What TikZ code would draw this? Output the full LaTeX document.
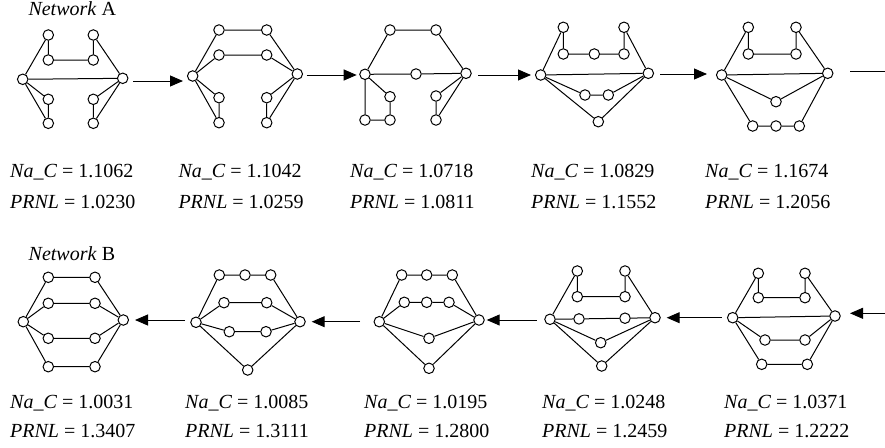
\documentclass[tikz,border=0pt]{standalone}
\usepackage{fontspec}
\setmainfont{Liberation Serif}
\usetikzlibrary{arrows.meta}
\tikzset{
  v/.style={circle,draw,fill=white,inner sep=0pt,minimum size=10.5pt,line width=1pt},
  e/.style={line width=1pt},
  arr/.style={line width=1pt,-{Triangle[length=13pt,width=11pt]}},
  lbl/.style={anchor=base west,inner sep=0pt,font=\fontsize{20}{24}\selectfont},
}
\begin{document}
\begin{tikzpicture}[x=1pt,y=-1pt]
\useasboundingbox (0,0) rectangle (885,447);
% ---------------- Row A ----------------
\node[lbl] (netA) at (28.3,16) {\textit{Network} A};
% A1
\node[v] (a1L) at (22.7,79.3) {};
\node[v] (a1R) at (122.7,78.3) {};
\node[v] (a1t1) at (48.3,35) {};
\node[v] (a1t2) at (93.3,35) {};
\node[v] (a1s1) at (48.3,60) {};
\node[v] (a1s2) at (93.3,60) {};
\node[v] (a1b1) at (48.3,99.3) {};
\node[v] (a1b2) at (48.3,123.3) {};
\node[v] (a1b3) at (93.3,99.3) {};
\node[v] (a1b4) at (93.3,123.3) {};
\draw[e] (a1L)--(a1t1) (a1t1)--(a1s1) (a1s1)--(a1s2) (a1s2)--(a1t2) (a1t2)--(a1R) (a1L)--(a1R)
 (a1L)--(a1b1) (a1b1)--(a1b2) (a1L)--(a1b2) (a1R)--(a1b3) (a1b3)--(a1b4) (a1R)--(a1b4);
% A2
\node[v] (a2L) at (192.7,76) {};
\node[v] (a2R) at (297.3,74) {};
\node[v] (a2t1) at (219,30) {};
\node[v] (a2t2) at (266.7,30) {};
\node[v] (a2s1) at (219,55) {};
\node[v] (a2s2) at (266.7,55) {};
\node[v] (a2b1) at (219,97.7) {};
\node[v] (a2b2) at (219,122.7) {};
\node[v] (a2b3) at (266.7,97.7) {};
\node[v] (a2b4) at (266.7,122.7) {};
\draw[e] (a2L)--(a2t1) (a2t1)--(a2t2) (a2t2)--(a2R) (a2L)--(a2s1) (a2s1)--(a2s2) (a2s2)--(a2R)
 (a2L)--(a2b1) (a2b1)--(a2b2) (a2L)--(a2b2) (a2R)--(a2b3) (a2b3)--(a2b4) (a2R)--(a2b4);
% A3
\node[v] (a3L) at (365,74.3) {};
\node[v] (a3R) at (466,73.3) {};
\node[v] (a3m) at (416,74) {};
\node[v] (a3t1) at (390,30) {};
\node[v] (a3t2) at (436,30) {};
\node[v] (a3b1) at (390,96.7) {};
\node[v] (a3b2) at (390,120) {};
\node[v] (a3b0) at (365,120) {};
\node[v] (a3b3) at (436,96) {};
\node[v] (a3b4) at (436,120) {};
\draw[e] (a3L)--(a3t1) (a3t1)--(a3t2) (a3t2)--(a3R) (a3L)--(a3m) (a3m)--(a3R)
 (a3L)--(a3b1) (a3b1)--(a3b2) (a3b2)--(a3b0) (a3b0)--(a3L) (a3R)--(a3b3) (a3b3)--(a3b4) (a3R)--(a3b4);
% A4
\node[v] (a4L) at (540.7,75) {};
\node[v] (a4R) at (648.3,73.3) {};
\node[v] (a4t1) at (563.3,27.3) {};
\node[v] (a4t2) at (624,27.3) {};
\node[v] (a4s1) at (563.3,54) {};
\node[v] (a4s2) at (594.3,54) {};
\node[v] (a4s3) at (624,54) {};
\node[v] (a4m1) at (585,95) {};
\node[v] (a4m2) at (608.3,95) {};
\node[v] (a4b) at (598.3,121.7) {};
\draw[e] (a4L)--(a4t1) (a4t1)--(a4s1) (a4s1)--(a4s2) (a4s2)--(a4s3) (a4s3)--(a4t2) (a4t2)--(a4R) (a4L)--(a4R)
 (a4L)--(a4m1) (a4m1)--(a4m2) (a4m2)--(a4R) (a4L)--(a4b) (a4b)--(a4R);
% A5
\node[v] (a5L) at (721.7,75) {};
\node[v] (a5R) at (827.7,73.3) {};
\node[v] (a5t1) at (748.3,27.3) {};
\node[v] (a5t2) at (796,27.3) {};
\node[v] (a5s1) at (748.3,54) {};
\node[v] (a5s2) at (796,54) {};
\node[v] (a5m) at (776,101.7) {};
\node[v] (a5b1) at (752.7,126) {};
\node[v] (a5b2) at (776,126) {};
\node[v] (a5b3) at (799.3,126) {};
\draw[e] (a5L)--(a5t1) (a5t1)--(a5s1) (a5s1)--(a5s2) (a5s2)--(a5t2) (a5t2)--(a5R) (a5L)--(a5R)
 (a5L)--(a5m) (a5m)--(a5R) (a5L)--(a5b1) (a5b1)--(a5b2) (a5b2)--(a5b3) (a5b3)--(a5R);
% arrows row A
\coordinate (pa1s) at (133,81); \coordinate (pa1e) at (183,81);
\coordinate (pa2s) at (306.7,75); \coordinate (pa2e) at (356.7,75);
\coordinate (pa3s) at (478.3,75); \coordinate (pa3e) at (531,75);
\coordinate (pa4s) at (660,74); \coordinate (pa4e) at (707,74);
\coordinate (pa5s) at (850,71); \coordinate (pa5e) at (885,71);
\draw[arr] (pa1s)--(pa1e);
\draw[arr] (pa2s)--(pa2e);
\draw[arr] (pa3s)--(pa3e);
\draw[arr] (pa4s)--(pa4e);
\draw[e] (pa5s)--(pa5e);
% labels row A
\node[lbl] (la1) at (10,177.3) {\textit{Na\_C} = 1.1062};
\node[lbl] (la1p) at (10,208) {\textit{PRNL} = 1.0230};
\node[lbl] (la2) at (178.3,177.3) {\textit{Na\_C} = 1.1042};
\node[lbl] (la2p) at (178.3,208) {\textit{PRNL} = 1.0259};
\node[lbl] (la3) at (350,177.3) {\textit{Na\_C} = 1.0718};
\node[lbl] (la3p) at (350,208) {\textit{PRNL} = 1.0811};
\node[lbl] (la4) at (531,177.3) {\textit{Na\_C} = 1.0829};
\node[lbl] (la4p) at (531,208) {\textit{PRNL} = 1.1552};
\node[lbl] (la5) at (705,177.3) {\textit{Na\_C} = 1.1674};
\node[lbl] (la5p) at (705,208) {\textit{PRNL} = 1.2056};
% ---------------- Row B ----------------
\node[lbl] (netB) at (28.5,260) {\textit{Network} B};
% B1
\node[v] (b1L) at (23.3,321.7) {};
\node[v] (b1R) at (123.3,320) {};
\node[v] (b1a1) at (48.3,277.3) {};
\node[v] (b1a2) at (95,277.3) {};
\node[v] (b1b1) at (48.3,303.3) {};
\node[v] (b1b2) at (95,303.3) {};
\node[v] (b1c1) at (48.3,338.3) {};
\node[v] (b1c2) at (95,338.3) {};
\node[v] (b1d1) at (48.3,366.7) {};
\node[v] (b1d2) at (95,366.7) {};
\draw[e] (b1L)--(b1a1) (b1a1)--(b1a2) (b1a2)--(b1R) (b1L)--(b1b1) (b1b1)--(b1b2) (b1b2)--(b1R)
 (b1L)--(b1c1) (b1c1)--(b1c2) (b1c2)--(b1R) (b1L)--(b1d1) (b1d1)--(b1d2) (b1d2)--(b1R);
% B2
\node[v] (b2L) at (196,322.3) {};
\node[v] (b2R) at (300,321.7) {};
\node[v] (b2t1) at (219.3,275) {};
\node[v] (b2t2) at (245,275) {};
\node[v] (b2t3) at (270.7,275) {};
\node[v] (b2s1) at (224,302.7) {};
\node[v] (b2s2) at (266.7,302.7) {};
\node[v] (b2u1) at (229.3,331.7) {};
\node[v] (b2u2) at (266,331.7) {};
\node[v] (b2b) at (247.7,370) {};
\draw[e] (b2L)--(b2t1) (b2t1)--(b2t2) (b2t2)--(b2t3) (b2t3)--(b2R) (b2L)--(b2s1) (b2s1)--(b2s2) (b2s2)--(b2R)
 (b2L)--(b2u1) (b2u1)--(b2u2) (b2u2)--(b2R) (b2L)--(b2b) (b2b)--(b2R);
% B3
\node[v] (b3L) at (379.3,321.7) {};
\node[v] (b3R) at (479,320) {};
\node[v] (b3t1) at (401.7,275) {};
\node[v] (b3t2) at (426.7,275) {};
\node[v] (b3t3) at (452.3,275) {};
\node[v] (b3s1) at (404.3,302.3) {};
\node[v] (b3s2) at (426.7,302.3) {};
\node[v] (b3s3) at (449,302.3) {};
\node[v] (b3m) at (429,338.3) {};
\node[v] (b3b) at (429,368.3) {};
\draw[e] (b3L)--(b3t1) (b3t1)--(b3t2) (b3t2)--(b3t3) (b3t3)--(b3R) (b3L)--(b3s1) (b3s1)--(b3s2) (b3s2)--(b3s3) (b3s3)--(b3R)
 (b3L)--(b3m) (b3m)--(b3R) (b3L)--(b3b) (b3b)--(b3R);
% B4
\node[v] (b4L) at (550,319.3) {};
\node[v] (b4R) at (655,317.7) {};
\node[v] (b4t1) at (577.3,271) {};
\node[v] (b4t2) at (625,271) {};
\node[v] (b4s1) at (577.3,296.7) {};
\node[v] (b4s2) at (625,296.7) {};
\node[v] (b4u1) at (579,318.9) {};
\node[v] (b4u2) at (625,318.2) {};
\node[v] (b4m) at (600.7,342.7) {};
\node[v] (b4b) at (601.7,366) {};
\draw[e] (b4L)--(b4t1) (b4t1)--(b4s1) (b4s1)--(b4s2) (b4s2)--(b4t2) (b4t2)--(b4R)
 (b4L)--(b4u1) (b4u1)--(b4u2) (b4u2)--(b4R) (b4L)--(b4m) (b4m)--(b4R) (b4L)--(b4b) (b4b)--(b4R);
% B5
\node[v] (b5L) at (732.7,317.7) {};
\node[v] (b5R) at (835,316) {};
\node[v] (b5t1) at (758.3,273.3) {};
\node[v] (b5t2) at (805,273.3) {};
\node[v] (b5s1) at (758.3,297.7) {};
\node[v] (b5s2) at (805,297.7) {};
\node[v] (b5u1) at (765,340) {};
\node[v] (b5u2) at (805,340) {};
\node[v] (b5b1) at (761.7,364.3) {};
\node[v] (b5b2) at (807.3,364.3) {};
\draw[e] (b5L)--(b5t1) (b5t1)--(b5s1) (b5s1)--(b5s2) (b5s2)--(b5t2) (b5t2)--(b5R) (b5L)--(b5R)
 (b5L)--(b5u1) (b5u1)--(b5u2) (b5u2)--(b5R) (b5L)--(b5b1) (b5b1)--(b5b2) (b5b2)--(b5R);
% arrows row B
\coordinate (pb1s) at (185,320); \coordinate (pb1e) at (135,320);
\coordinate (pb2s) at (360,321.7); \coordinate (pb2e) at (311.7,321.7);
\coordinate (pb3s) at (536.7,320); \coordinate (pb3e) at (486.7,320);
\coordinate (pb4s) at (721.7,317.7); \coordinate (pb4e) at (666.7,317.7);
\coordinate (pb5s) at (885,313.3); \coordinate (pb5e) at (850,313.3);
\draw[arr] (pb1s)--(pb1e);
\draw[arr] (pb2s)--(pb2e);
\draw[arr] (pb3s)--(pb3e);
\draw[arr] (pb4s)--(pb4e);
\draw[arr] (pb5s)--(pb5e);
% labels row B
\node[lbl] (lb1) at (10,408.5) {\textit{Na\_C} = 1.0031};
\node[lbl] (lb1p) at (10,437) {\textit{PRNL} = 1.3407};
\node[lbl] (lb2) at (185,408.5) {\textit{Na\_C} = 1.0085};
\node[lbl] (lb2p) at (185,437) {\textit{PRNL} = 1.3111};
\node[lbl] (lb3) at (364,408.5) {\textit{Na\_C} = 1.0195};
\node[lbl] (lb3p) at (364,437) {\textit{PRNL} = 1.2800};
\node[lbl] (lb4) at (542,408.5) {\textit{Na\_C} = 1.0248};
\node[lbl] (lb4p) at (542,437) {\textit{PRNL} = 1.2459};
\node[lbl] (lb5) at (724,408.5) {\textit{Na\_C} = 1.0371};
\node[lbl] (lb5p) at (724,437) {\textit{PRNL} = 1.2222};
\end{tikzpicture}
\end{document}
